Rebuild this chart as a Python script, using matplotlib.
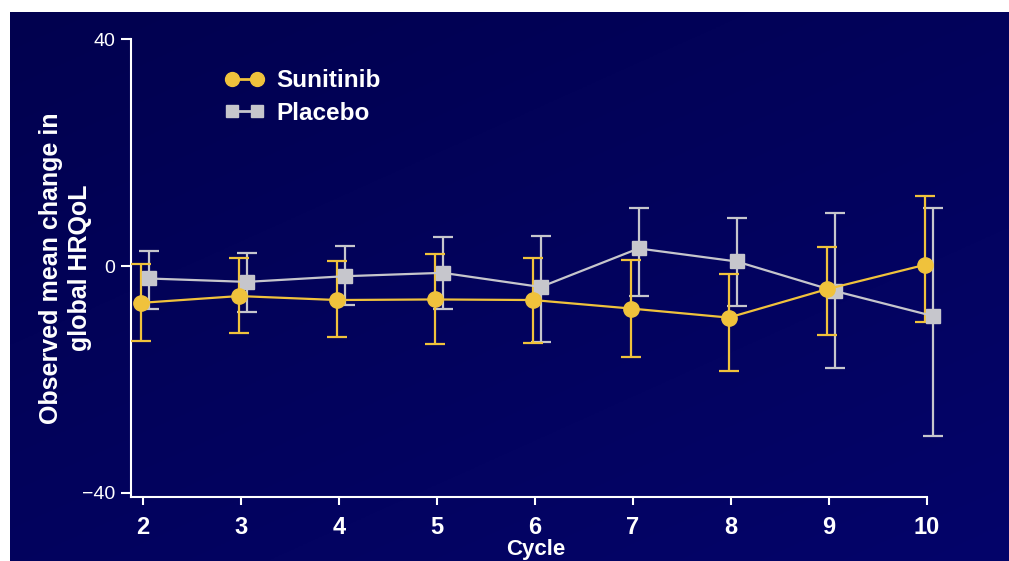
import numpy as np
import matplotlib
matplotlib.use("Agg")
import matplotlib.pyplot as plt
from matplotlib.lines import Line2D

# --- data ---
cycles = [2, 3, 4, 5, 6, 7, 8, 9, 10]

suni_mean = [-6.5, -5.3, -6.0, -5.9, -6.0, -7.5, -9.1, -4.1, 0.2]
suni_hi = [0.35, 1.5, 0.9, 2.1, 1.4, 1.1, -1.4, 3.3, 12.4]
suni_lo = [-13.2, -11.8, -12.5, -13.8, -13.5, -16.1, -18.6, -12.2, -9.8]

plac_mean = [-2.2, -2.8, -1.8, -1.2, -3.7, 3.1, 0.8, -4.4, -8.8]
plac_hi = [2.7, 2.3, 3.5, 5.1, 5.3, 10.2, 8.4, 9.3, 10.2]
plac_lo = [-7.6, -8.1, -6.9, -7.5, -13.4, -5.3, -7.0, -18.0, -30.0]

y_ticks = [-40, 0, 40]
y_ticklabels = ["\u221240", "0", "40"]

# --- styling ---
BG_TOP = "#01014f"
BG_BOT = "#04046a"
YELLOW = "#f0c23c"
GREY = "#c6c6cc"
FONT = ["Liberation Sans", "DejaVu Sans"]

plt.rcParams["font.family"] = FONT

W, H = 1009, 561
fig = plt.figure(figsize=(W / 100, H / 100), dpi=100)
fig.patch.set_facecolor("white")

# dark slide background with a soft gradient
bg = fig.add_axes([10 / W, 0, (W - 10) / W, (H - 12) / H])
grad = np.linspace(0, 1, 256)
gx, gy = np.meshgrid(grad, grad)
mix = 0.55 * gy + 0.45 * gx
c0 = np.array(matplotlib.colors.to_rgb(BG_TOP))
c1 = np.array(matplotlib.colors.to_rgb(BG_BOT))
img = c0[None, None, :] * (1 - mix[..., None]) + c1[None, None, :] * mix[..., None]
bg.imshow(img, aspect="auto", extent=[0, 1, 0, 1], origin="upper")
bg.set_axis_off()

# plotting axes
left_px, right_px = 130.7, 940.0
top_px, bot_px = 39.3, 496.7
ax = fig.add_axes([left_px / W, (H - bot_px) / H,
                   (right_px - left_px) / W, (bot_px - top_px) / H])
ax.set_facecolor("none")

dodge_s, dodge_p = -0.02, 0.06
xs = np.array(cycles) + dodge_s
xp = np.array(cycles) + dodge_p

s_err = [np.array(suni_mean) - np.array(suni_lo), np.array(suni_hi) - np.array(suni_mean)]
p_err = [np.array(plac_mean) - np.array(plac_lo), np.array(plac_hi) - np.array(plac_mean)]

ax.errorbar(xp, plac_mean, yerr=p_err, fmt="none", ecolor=GREY, elinewidth=1.6,
            capsize=7, capthick=1.6, zorder=2, clip_on=False)
ax.errorbar(xs, suni_mean, yerr=s_err, fmt="none", ecolor=YELLOW, elinewidth=1.6,
            capsize=7, capthick=1.6, zorder=3, clip_on=False)
ax.plot(xp, plac_mean, color=GREY, lw=1.6, marker="s", ms=10, mec=GREY,
        zorder=4, clip_on=False)
ax.plot(xs, suni_mean, color=YELLOW, lw=1.6, marker="o", ms=11, mec=YELLOW,
        zorder=5, clip_on=False)

ax.set_xlim(1.875, 10.136)
ax.set_ylim(-40.7, 40)
ax.set_xticks(cycles)
ax.set_xticklabels([str(c) for c in cycles])
ax.set_yticks(y_ticks)
ax.set_yticklabels(y_ticklabels)

for side in ["top", "right"]:
    ax.spines[side].set_visible(False)
for side in ["left", "bottom"]:
    ax.spines[side].set_color("white")
    ax.spines[side].set_linewidth(1.5)
ax.spines["bottom"].set_bounds(1.875, 10)

ax.tick_params(axis="x", colors="white", length=6, width=1.5, pad=8,
               labelsize=17)
ax.tick_params(axis="y", colors="white", length=7, width=1.5, pad=4,
               labelsize=14)
for lab in ax.get_xticklabels():
    lab.set_fontweight("bold")

ax.set_xlabel("Cycle", color="white", fontsize=16, fontweight="bold", labelpad=0)
ax.set_ylabel("Observed mean change in\nglobal HRQoL", color="white",
              fontsize=18, fontweight="bold", labelpad=-7, linespacing=1.25)

handles = [
    Line2D([], [], color=YELLOW, lw=2, marker="o", ms=10, mec=YELLOW),
    Line2D([], [], color=GREY, lw=2, marker="s", ms=9, mec=GREY),
]
leg = ax.legend(handles, ["Sunitinib", "Placebo"], loc="upper left",
                bbox_to_anchor=(0.1165, 0.935), frameon=False, numpoints=2,
                handlelength=1.6, handletextpad=0.5, labelspacing=0.4,
                borderaxespad=0, borderpad=0,
                prop={"weight": "bold", "size": 17.5})
for t in leg.get_texts():
    t.set_color("white")

fig.savefig("out.png", dpi=100, facecolor=fig.get_facecolor())
